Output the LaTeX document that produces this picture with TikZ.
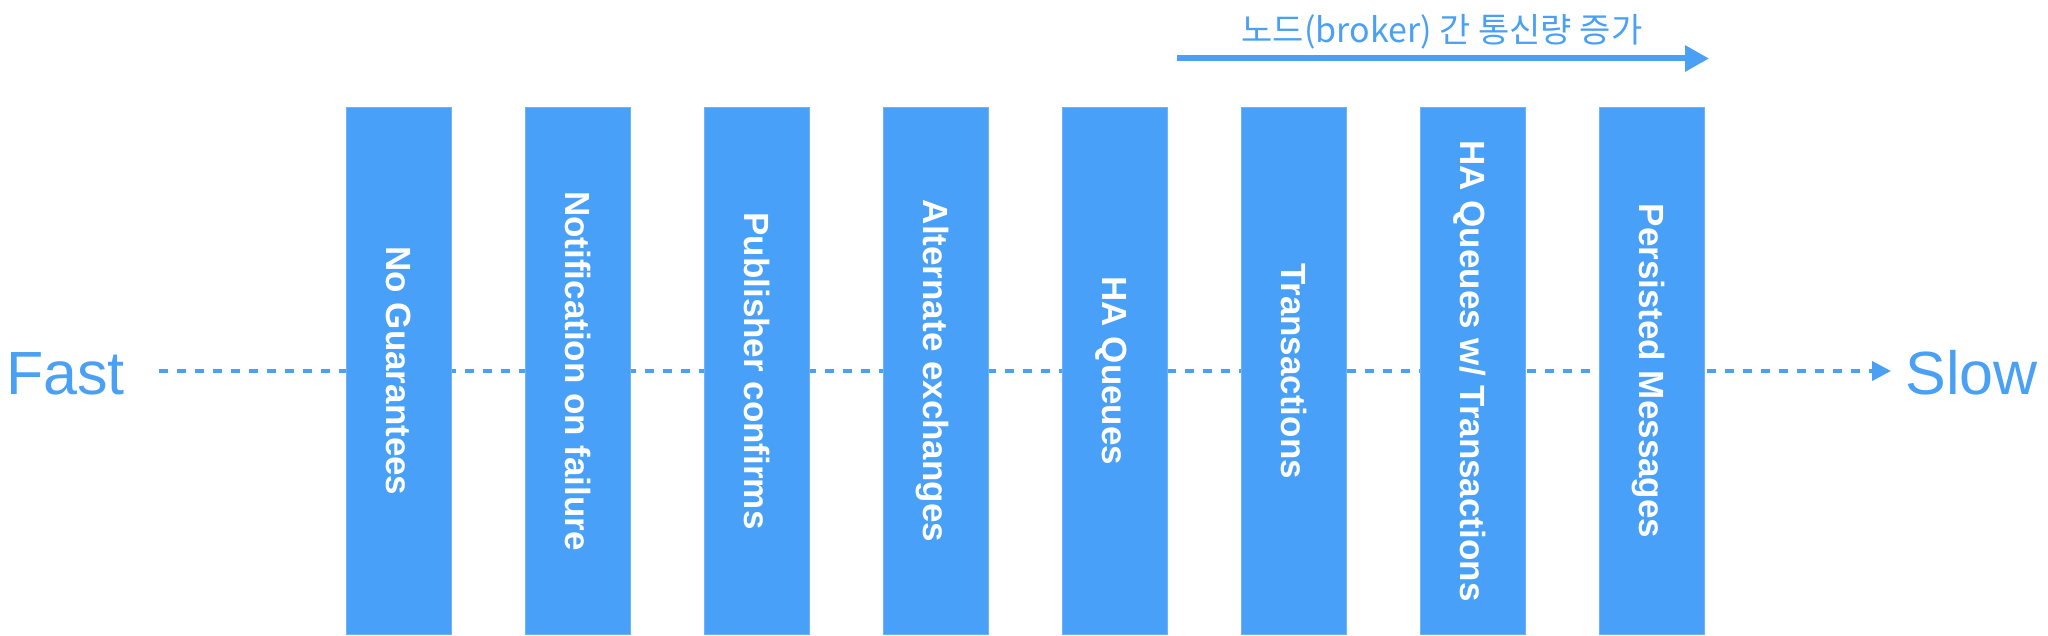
\documentclass[tikz,border=0pt]{standalone}
\usepackage{fontspec}
\setmainfont{Liberation Sans}
\newfontfamily\krfont{Noto Sans CJK KR}
\usetikzlibrary{arrows.meta}
\definecolor{barblue}{HTML}{48A0F8}
\definecolor{edgeblue}{HTML}{6DB3F9}
\definecolor{txtblue}{HTML}{4AA0F5}
\begin{document}
\begin{tikzpicture}[x=1pt,y=-1pt,
  bar/.style={rectangle, fill=barblue, draw=edgeblue, line width=1pt, rotate=-90,
    minimum width=526pt, minimum height=105pt, inner sep=0pt, text=white,
    font=\fontsize{35}{40}\selectfont\bfseries, text height=25pt, text depth=0pt},
  endlabel/.style={inner sep=0pt, text=txtblue, font=\fontsize{61}{70}\selectfont},
  toplabel/.style={inner sep=0pt, text=txtblue, font=\krfont\fontsize{34}{40}\selectfont},
  speedline/.style={draw=txtblue, line width=4pt, dash pattern=on 9pt off 9pt,
    -{Triangle[length=19pt,width=19pt]}},
  trafficline/.style={draw=txtblue, line width=6pt, -{Triangle[length=24pt,width=25pt]}},
]
\useasboundingbox (0,0) rectangle (2048,636);

% end labels
\node[endlabel, anchor=base west] (fast) at (6,394) {Fast};
\node[endlabel, anchor=base east] (slow) at (2038,394) {Slow};

% dashed speed axis (behind bars)
\coordinate (ds) at (159,371);
\coordinate (de) at (1891,371);
\draw[speedline] (ds) -- (de);

% bars
\node[bar] (b1) at (398.5,371) {No Guarantees};
\node[bar] (b2) at (577.5,371) {Notification on failure};
\node[bar] (b3) at (756.5,371) {Publisher confirms};
\node[bar] (b4) at (935.5,371) {Alternate exchanges};
\node[bar] (b5) at (1114.5,371) {HA Queues};
\node[bar] (b6) at (1293.5,371) {Transactions};
\node[bar] (b7) at (1472.5,371) {HA Queues w/ Transactions};
\node[bar] (b8) at (1651.5,371) {Persisted Messages};

% top traffic arrow
\node[toplabel, anchor=base] (traffic) at (1442,43) {노드(broker) 간 통신량 증가};
\coordinate (ts) at (1177,58.5);
\coordinate (te) at (1709,58.5);
\draw[trafficline] (ts) -- (te);
\end{tikzpicture}
\end{document}
